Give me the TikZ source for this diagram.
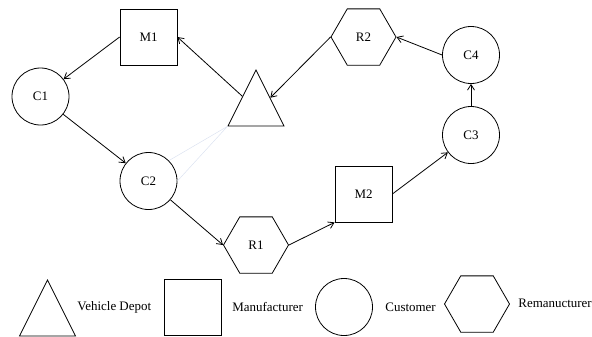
\documentclass[tikz,border=0pt]{standalone}
\usepackage{fontspec}
\setmainfont{Liberation Serif}
\usetikzlibrary{shapes.geometric,arrows.meta}
\definecolor{faint}{RGB}{220,226,240}

\begin{document}
\begin{tikzpicture}[x=1bp,y=-1bp,line width=0.8pt,
  every node/.style={font=\fontsize{13}{15}\selectfont},
  cust/.style={draw,circle,minimum size=57bp,inner sep=0pt},
  manu/.style={draw,rectangle,minimum width=57bp,minimum height=56bp,inner sep=0pt},
  reman/.style={draw,regular polygon,regular polygon sides=6,minimum size=65bp,inner sep=0pt},
  depot/.style={draw,isosceles triangle,isosceles triangle stretches,shape border rotate=90,
                minimum width=56bp,minimum height=56bp,inner sep=0pt},
  legtext/.style={anchor=west,inner sep=0pt},
  route/.style={-{Straight Barb[length=5.5bp,width=7bp]}}]
\useasboundingbox (0,0) rectangle (592,336);
% the network
\node[manu] (M1) at (148.5,37) {M1};
\node[cust] (C1) at (40.5,96.5) {C1};
\node[depot,anchor=apex] (D) at (256,69) {};
\node[cust] (C2) at (148.5,181) {C2};
\node[reman] (R1) at (256,245) {R1};
\node[manu] (M2) at (363.5,194) {M2};
\node[cust] (C3) at (471,135) {C3};
\node[cust] (C4) at (471,55) {C4};
\node[reman] (R2) at (363.5,37) {R2};
% routes
\draw[route] (M1.west) -- (C1);
\draw[route] (C1) -- (C2);
\draw[route] (C2) -- (R1.west);
\draw[route] (R1.east) -- (M2.south west);
\draw[route] (M2.east) -- (C3);
\draw[route] (C3) -- (C4);
\draw[route] (C4.west) -- (R2.east);
\draw[route] (R2.west) -- (D.right side);
\draw[route] (D) -- (M1.east);
\draw[faint,line width=0.5pt] (D.left corner) -- (C2.45);
\draw[faint,line width=0.5pt] (D.left corner) -- (C2.east);
% legend
\node[depot,anchor=apex] (Ld) at (47.5,279) {};
\node[legtext] (Td) at (77,307) {Vehicle Depot};
\node[manu] (Lm) at (192.5,307) {};
\node[legtext] (Tm) at (232,307) {Manufacturer};
\node[cust] (Lc) at (344,307) {};
\node[legtext] (Tc) at (385,307) {Customer};
\node[reman] (Lr) at (477,304) {};
\node[legtext] (Tr) at (518,303) {Remanucturer};
\end{tikzpicture}
\end{document}
